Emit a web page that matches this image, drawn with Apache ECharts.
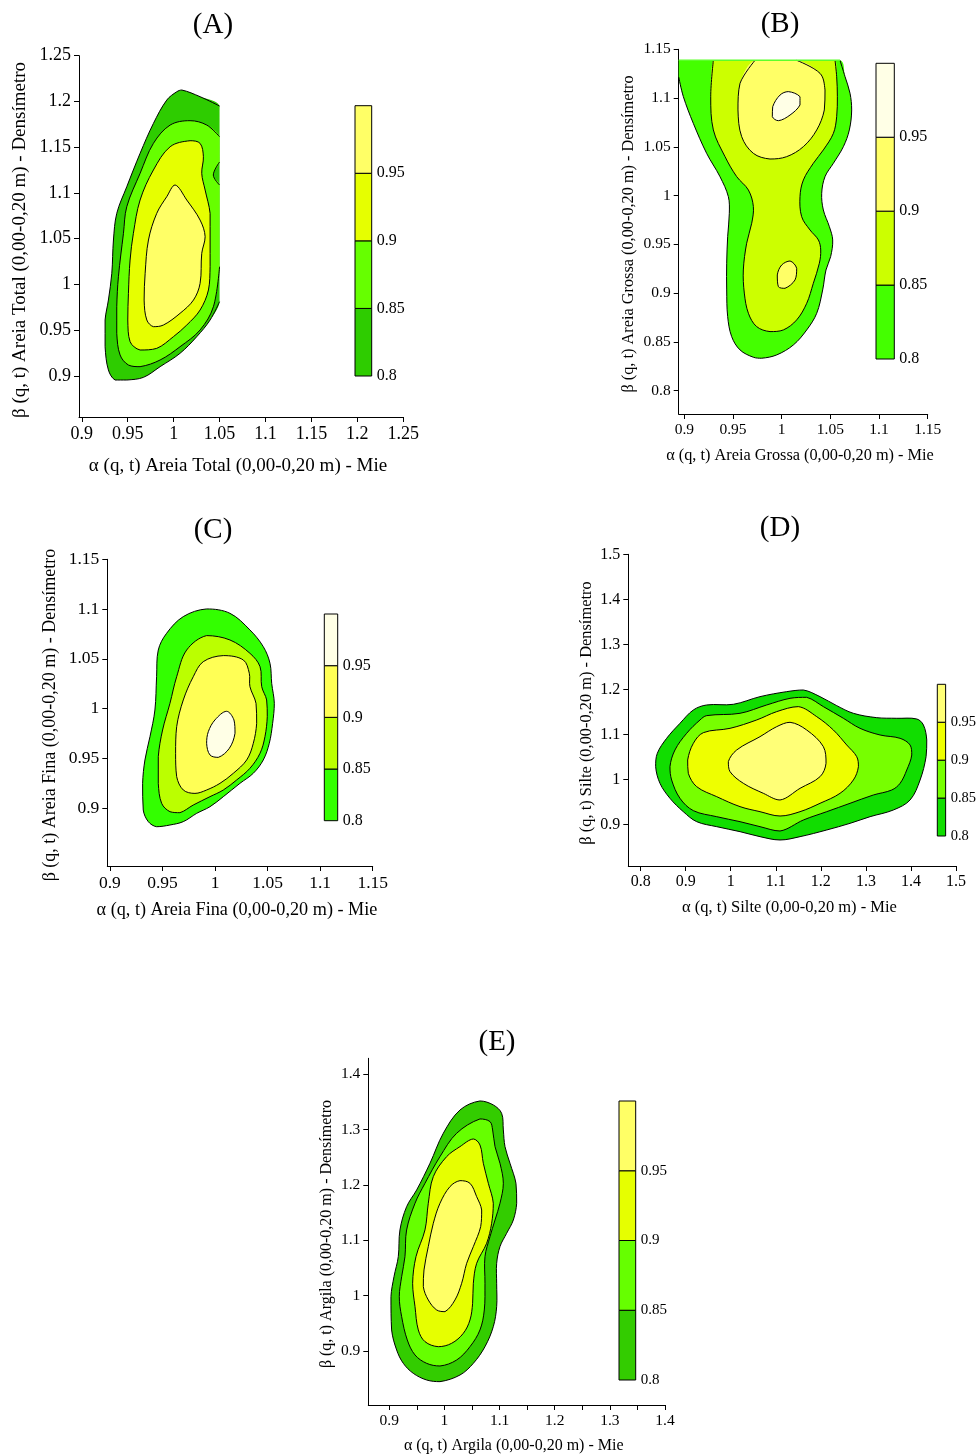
<!DOCTYPE html>
<html><head><meta charset="utf-8">
<script src="https://cdn.jsdelivr.net/npm/echarts@6/dist/echarts.min.js"></script>
<style>html,body{margin:0;padding:0;background:#fff}#c{width:979px;height:1454px}</style>
</head><body><div id="c"></div>
<script>
// ---------------- DATA ----------------
// Contour level boundaries (colour bar)
const CB_LEVELS = [0.8, 0.85, 0.9, 0.95, 1.0];
const CB_LABELS = [0.8, 0.85, 0.9, 0.95];

// Tick values
const A_X_TICKS = [0.9, 0.95, 1, 1.05, 1.1, 1.15, 1.2, 1.25];
const A_Y_TICKS = [0.9, 0.95, 1, 1.05, 1.1, 1.15, 1.2, 1.25];
const B_X_TICKS = [0.9, 0.95, 1, 1.05, 1.1, 1.15];
const B_Y_TICKS = [0.8, 0.85, 0.9, 0.95, 1, 1.05, 1.1, 1.15];
const C_X_TICKS = [0.9, 0.95, 1, 1.05, 1.1, 1.15];
const C_Y_TICKS = [0.9, 0.95, 1, 1.05, 1.1, 1.15];
const D_X_TICKS = [0.8, 0.9, 1, 1.1, 1.2, 1.3, 1.4, 1.5];
const D_Y_TICKS = [0.9, 1, 1.1, 1.2, 1.3, 1.4, 1.5];
const E_X_TICKS = [0.9, 0.95, 1, 1.05, 1.1, 1.15, 1.2, 1.25, 1.3, 1.35, 1.4];
const E_X_LABELS = [0.9, 1, 1.1, 1.2, 1.3, 1.4];
const E_Y_TICKS = [0.9, 1, 1.1, 1.2, 1.3, 1.4];

// Texts
const TITLES = ['(A)', '(B)', '(C)', '(D)', '(E)'];
const X_NAMES = [
  'α (q, t) Areia Total (0,00-0,20 m) - Mie',
  'α (q, t) Areia Grossa (0,00-0,20 m) - Mie',
  'α (q, t) Areia Fina (0,00-0,20 m) - Mie',
  'α (q, t) Silte (0,00-0,20 m) - Mie',
  'α (q, t) Argila (0,00-0,20 m) - Mie'
];
const Y_NAMES = [
  'β (q, t) Areia Total (0,00-0,20 m) - Densímetro',
  'β (q, t) Areia Grossa (0,00-0,20 m) - Densímetro',
  'β (q, t) Areia Fina (0,00-0,20 m) - Densímetro',
  'β (q, t) Silte (0,00-0,20 m) - Densímetro',
  'β (q, t) Argila (0,00-0,20 m) - Densímetro'
];

// (A) Areia Total – contour polygons [alpha, beta]
const A_C080 = [[1.0089,1.2125],[1.0288,1.2052],[1.05,1.195],[1.05,1.14],[1.05,1.09],[1.05,1.035],[1.05,0.9812],[1.0397,0.9612],[1.0252,0.943],[1.007,0.9248],[0.9853,0.9102],[0.9671,0.8985],[0.949,0.8956],[0.9363,0.8956],[0.929,0.9066],[0.9254,0.932],[0.9254,0.9612],[0.929,0.983],[0.9327,1.0122],[0.9345,1.0486],[0.9381,1.0777],[0.949,1.1068],[0.9635,1.1433],[0.978,1.176],[0.9925,1.2015],[1.0034,1.2106]];
const A_C085 = [[1.0179,1.179],[1.0361,1.1742],[1.05,1.1615],[1.05,1.1338],[1.0432,1.1196],[1.05,1.1087],[1.05,1.065],[1.05,1.0194],[1.0433,0.9757],[1.0288,0.9503],[1.007,0.932],[0.9853,0.9175],[0.9635,0.9102],[0.9508,0.912],[0.9417,0.923],[0.9381,0.9466],[0.9381,0.9757],[0.9399,1.0085],[0.9454,1.0559],[0.949,1.085],[0.9635,1.1214],[0.978,1.1542],[0.9962,1.1742]];
const A_C090 = [[1.0179,1.1571],[1.0288,1.1542],[1.0324,1.1396],[1.0306,1.1214],[1.0343,1.1032],[1.0397,1.0777],[1.0397,1.0486],[1.0397,1.0194],[1.0379,0.994],[1.0288,0.9721],[1.0143,0.9557],[0.9998,0.943],[0.9816,0.9302],[0.9635,0.9284],[0.9526,0.9375],[0.9501,0.9612],[0.9508,0.9903],[0.9526,1.0267],[0.9562,1.0559],[0.9635,1.0923],[0.978,1.1251],[0.9962,1.1505]];
const A_C095 = [[1.0016,1.1087],[1.0143,1.0923],[1.0288,1.0704],[1.0343,1.0522],[1.0306,1.034],[1.0288,1.0012],[1.0216,0.983],[1.007,0.9685],[0.9889,0.9557],[0.978,0.9539],[0.9708,0.9612],[0.9679,0.983],[0.969,1.0122],[0.9726,1.0486],[0.9816,1.0777],[0.9925,1.0959]];

// (B) Areia Grossa
const B_C080 = [[0.8942,1.1387],[0.98,1.1387],[1.0599,1.1387],[1.0651,1.1219],[1.0702,1.1049],[1.0719,1.0878],[1.0695,1.0673],[1.0634,1.0502],[1.0531,1.0331],[1.0445,1.0194],[1.0411,1.0023],[1.0428,0.9852],[1.049,0.9681],[1.0524,0.9545],[1.0503,0.9374],[1.0455,0.9237],[1.0421,0.9032],[1.036,0.8793],[1.0257,0.8622],[1.012,0.8468],[0.9949,0.8366],[0.9795,0.8332],[0.9709,0.8342],[0.9572,0.8417],[0.9486,0.8554],[0.9445,0.8759],[0.9435,0.9032],[0.9435,0.9306],[0.9445,0.9579],[0.9462,0.9818],[0.9452,0.9989],[0.9366,1.0194],[0.9229,1.0433],[0.9092,1.0741],[0.899,1.1014],[0.8942,1.1216]];
const B_C085 = [[0.9298,1.1387],[0.99,1.1387],[1.0548,1.1387],[1.0565,1.1219],[1.0572,1.1014],[1.0565,1.0809],[1.0531,1.0638],[1.0428,1.0468],[1.0325,1.0331],[1.0223,1.016],[1.0188,0.9989],[1.0205,0.9784],[1.0291,0.9647],[1.0377,0.9545],[1.0401,0.9442],[1.0387,0.9306],[1.0325,0.91],[1.0257,0.8895],[1.0154,0.8725],[1.0017,0.8622],[0.988,0.8605],[0.9743,0.8656],[0.9658,0.8793],[0.9616,0.9],[0.9606,0.9237],[0.964,0.9511],[0.9692,0.9716],[0.9709,0.9887],[0.9658,1.0057],[0.9538,1.0194],[0.9418,1.0399],[0.9298,1.0673],[0.9271,1.1014]];
const B_C090 = [[0.9726,1.1387],[1.0154,1.1387],[1.0394,1.1253],[1.0445,1.1083],[1.0438,1.0878],[1.036,1.0673],[1.0223,1.0502],[1.0051,1.0399],[0.988,1.0375],[0.9709,1.0433],[0.9589,1.0604],[0.9551,1.0878],[0.9572,1.1151]];
const B_C090b = [[1.0086,0.9329],[1.0154,0.9254],[1.0137,0.9135],[1.0034,0.9049],[0.9966,0.9066],[0.9955,0.9186],[1.0,0.9288]];
const B_C095 = [[1.0068,1.1066],[1.0188,1.1014],[1.0188,1.0929],[1.0086,1.0826],[0.9966,1.0768],[0.9904,1.0809],[0.9908,1.0912],[0.9983,1.1031]];
const B_TOPROW = [[0.8942,1.1387],[1.0599,1.1387]];

// (C) Areia Fina
const C_C080 = [[0.992,1.1001],[1.0142,1.0957],[1.0332,1.079],[1.0459,1.0622],[1.0523,1.0454],[1.0539,1.0253],[1.0564,1.0052],[1.0548,0.9851],[1.0516,0.965],[1.0459,0.9483],[1.0364,0.9349],[1.0237,0.9248],[1.0079,0.9114],[0.9952,0.9013],[0.9825,0.8946],[0.9698,0.8863],[0.9571,0.8829],[0.9444,0.8812],[0.9365,0.8863],[0.9317,0.898],[0.9311,0.9248],[0.9333,0.9483],[0.9381,0.9717],[0.9428,0.9985],[0.9444,1.032],[0.946,1.0588],[0.9539,1.0756],[0.9698,1.0924]];
const C_C085 = [[0.992,1.0733],[1.0142,1.0689],[1.0332,1.0555],[1.0428,1.0421],[1.0444,1.022],[1.0491,1.0086],[1.0497,0.9918],[1.0475,0.9717],[1.0428,0.955],[1.0332,0.9399],[1.0206,0.9282],[1.0079,0.9181],[0.9952,0.9114],[0.9793,0.903],[0.9666,0.8953],[0.9571,0.8963],[0.9492,0.9047],[0.946,0.9248],[0.946,0.9516],[0.9501,0.9784],[0.9571,1.0052],[0.9635,1.032],[0.973,1.0588]];
const C_C090 = [[1.0079,1.0532],[1.0269,1.0488],[1.0326,1.0354],[1.0332,1.022],[1.039,1.0052],[1.0396,0.9851],[1.0364,0.965],[1.0301,0.9483],[1.0174,0.9349],[1.0047,0.9248],[0.992,0.9181],[0.9809,0.9147],[0.9698,0.9181],[0.9635,0.9315],[0.9625,0.955],[0.9635,0.9818],[0.9698,1.0086],[0.9793,1.032],[0.9888,1.0471]];
const C_C095 = [[1.011,0.9972],[1.018,0.9885],[1.019,0.9751],[1.0136,0.96],[1.0031,0.9509],[0.9952,0.9533],[0.992,0.965],[0.9936,0.9767],[0.9999,0.9885]];

// (D) Silte
const D_C080 = [[0.9466,1.1652],[1.0058,1.1667],[1.065,1.1837],[1.1242,1.1948],[1.1612,1.1985],[1.1982,1.1837],[1.2352,1.1637],[1.2722,1.1467],[1.3241,1.137],[1.3685,1.1356],[1.4129,1.1341],[1.4277,1.1207],[1.4351,1.0874],[1.4336,1.0504],[1.4203,0.9985],[1.3981,0.9541],[1.3611,0.9319],[1.3093,0.917],[1.2648,0.9022],[1.213,0.8874],[1.1538,0.8726],[1.1094,0.8652],[1.065,0.8726],[1.0206,0.8837],[0.9688,0.8948],[0.9244,0.9059],[0.8947,0.9281],[0.8651,0.9578],[0.8429,0.9911],[0.8333,1.0281],[0.837,1.0578],[0.8577,1.0911],[0.8873,1.1244],[0.917,1.1541]];
const D_C085 = [[0.9466,1.1415],[1.0206,1.1467],[1.0798,1.1652],[1.1316,1.18],[1.1686,1.1822],[1.2056,1.1615],[1.25,1.1356],[1.287,1.1133],[1.3315,1.0985],[1.3759,1.0911],[1.3981,1.0763],[1.4018,1.0541],[1.3907,1.0207],[1.3759,0.9911],[1.3574,0.9763],[1.3167,0.9652],[1.2648,0.9467],[1.213,0.9281],[1.1612,0.9096],[1.1094,0.8852],[1.065,0.8948],[1.0206,0.9059],[0.9688,0.917],[0.917,0.9304],[0.8873,0.9578],[0.8688,0.9985],[0.8651,1.0281],[0.8762,1.0652],[0.9021,1.1022],[0.9318,1.1319]];
const D_C090 = [[0.9392,1.1037],[0.9984,1.1133],[1.0576,1.1319],[1.102,1.1504],[1.1501,1.1615],[1.1908,1.1393],[1.2278,1.1096],[1.2574,1.0763],[1.2796,1.0504],[1.2834,1.0281],[1.2722,0.9985],[1.2426,0.9689],[1.1982,0.9467],[1.1538,0.9281],[1.1094,0.9185],[1.065,0.9281],[1.0206,0.9393],[0.9688,0.9615],[0.9244,0.9837],[0.9058,1.0133],[0.9044,1.043],[0.917,1.08]];
const D_C095 = [[1.1316,1.1267],[1.1686,1.1096],[1.2056,1.0726],[1.2115,1.0356],[1.1982,1.0059],[1.1538,0.98],[1.1094,0.9541],[1.0724,0.9689],[1.028,0.9911],[0.9984,1.017],[0.9947,1.0393],[1.0132,1.0652],[1.065,1.0948],[1.102,1.117]];

// (E) Argila
const E_C080 = [[1.0644,1.3518],[1.0886,1.3446],[1.1037,1.3295],[1.1068,1.2994],[1.1098,1.2693],[1.1189,1.2392],[1.1297,1.203],[1.131,1.1669],[1.1249,1.1367],[1.1128,1.1127],[1.1007,1.0886],[1.0947,1.0584],[1.0947,1.0223],[1.0947,0.9801],[1.0886,0.944],[1.0735,0.9078],[1.0524,0.8777],[1.0282,0.8566],[0.9919,0.8446],[0.9677,0.8476],[0.9435,0.8596],[0.9254,0.8777],[0.9133,0.9018],[0.9042,0.938],[0.903,0.9982],[0.9085,1.0343],[0.9163,1.0705],[0.9193,1.1187],[0.9314,1.1608],[0.9496,1.191],[0.9738,1.2392],[0.9979,1.2934],[1.0282,1.3355]];
const E_C085 = [[1.0644,1.3193],[1.0826,1.3145],[1.0874,1.2994],[1.0917,1.2693],[1.1007,1.2392],[1.1068,1.203],[1.1007,1.1669],[1.0917,1.1367],[1.0826,1.1066],[1.0735,1.0705],[1.0735,1.0223],[1.0723,0.9741],[1.0644,0.938],[1.0463,0.9078],[1.0221,0.8837],[0.9919,0.8729],[0.9677,0.8777],[0.9466,0.8928],[0.9326,0.9199],[0.9224,0.962],[0.9181,0.9982],[0.9224,1.0343],[0.9284,1.0705],[0.9314,1.1187],[0.9466,1.1669],[0.9647,1.203],[0.9919,1.2512],[1.0221,1.2934]];
const E_C090 = [[1.0524,1.2831],[1.0644,1.2723],[1.0705,1.2392],[1.0796,1.203],[1.0886,1.1669],[1.0856,1.1307],[1.0765,1.0946],[1.0584,1.0584],[1.0524,1.0223],[1.0511,0.9861],[1.0463,0.956],[1.0342,0.9319],[1.0131,0.9139],[0.9889,0.9078],[0.9647,0.9169],[0.9526,0.938],[0.9466,0.9801],[0.9423,1.0223],[0.9484,1.0705],[0.9647,1.1187],[0.9707,1.1669],[0.9798,1.2151],[1.004,1.2512],[1.0282,1.2693]];
const E_C095 = [[1.0282,1.2078],[1.0463,1.203],[1.0584,1.1789],[1.0675,1.1548],[1.0657,1.1247],[1.0524,1.0886],[1.0403,1.0584],[1.0312,1.0223],[1.0191,0.9922],[1.001,0.9711],[0.9859,0.9741],[0.9707,0.9922],[0.9617,1.0163],[0.9629,1.0464],[0.9707,1.0886],[0.9798,1.1307],[0.9919,1.1669],[1.01,1.197]];

// ---------------- STYLE / LAYOUT ----------------
const FONT = '"Liberation Serif", "Times New Roman", serif';
const SMOOTH = 0.35;
const fmt = v => String(Math.round(v * 100) / 100);

const A_COLORS = ['#2ecc00', '#66ff00', '#e6ff00', '#ffff66'];
const B_COLORS = ['#44ff00', '#ccff00', '#ffff66', '#ffffe6'];
const C_COLORS = ['#33ff00', '#bbff00', '#ffff55', '#ffffe6'];
const D_COLORS = ['#11dd00', '#77ff00', '#eeff00', '#ffff77'];
const E_COLORS = ['#33cc00', '#66ff00', '#e6ff00', '#ffff66'];

const panels = [
  { grid:{left:79, top:55.7, width:324.3, height:361.3}, x:[0.897,1.25], y:[0.8552,1.25],
    xTicks:A_X_TICKS, xLabels:A_X_TICKS, yTicks:A_Y_TICKS, tickFont:18,
    polys:[[A_C080,0],[A_C085,1],[A_C090,2],[A_C095,3]], colors:A_COLORS,
    clip: p => p[0] >= 1.0499,
    cb:{left:355, top:105.7, width:16.7, height:270.3}, cbFont:16,
    title:[213,25], xName:[238,466,19], yName:[20,240,19] },
  { grid:{left:678.7, top:49.3, width:249, height:364.7}, x:[0.8942,1.15], y:[0.776,1.15],
    xTicks:B_X_TICKS, xLabels:B_X_TICKS, yTicks:B_Y_TICKS, tickFont:15.5,
    polys:[[B_C080,0],[B_C085,1],[B_C090,2],[B_C090b,2],[B_C095,3]], colors:B_COLORS,
    clip: p => p[1] >= 1.1386 || p[0] <= 0.8943,
    cb:{left:876, top:63.3, width:18.3, height:295.7}, cbFont:16,
    title:[780,24], xName:[800,456,16.3], yName:[629,234,16.3] },
  { grid:{left:107.3, top:559.3, width:265.4, height:306.7}, x:[0.8975,1.15], y:[0.8417,1.15],
    xTicks:C_X_TICKS, xLabels:C_X_TICKS, yTicks:C_Y_TICKS, tickFont:17.5,
    polys:[[C_C080,0],[C_C085,1],[C_C090,2],[C_C095,3]], colors:C_COLORS, clip:null,
    cb:{left:324.3, top:614, width:13.4, height:206.7}, cbFont:16,
    title:[213,530], xName:[237,910,18.2], yName:[50,715,18] },
  { grid:{left:628.3, top:554.3, width:327.7, height:311.7}, x:[0.7726,1.5], y:[0.8074,1.5],
    xTicks:D_X_TICKS, xLabels:D_X_TICKS, yTicks:D_Y_TICKS, tickFont:16,
    polys:[[D_C080,0],[D_C085,1],[D_C090,2],[D_C095,3]], colors:D_COLORS, clip:null,
    cb:{left:937.3, top:684.3, width:9.4, height:151.7}, cbFont:14.5,
    title:[780,528], xName:[789.5,908,16.5], yName:[587,713,16.4] },
  { grid:{left:368.3, top:1058.3, width:296.7, height:346.7}, x:[0.8619,1.4], y:[0.8024,1.4289],
    xTicks:E_X_TICKS, xLabels:E_X_LABELS, yTicks:E_Y_TICKS, tickFont:15.5,
    polys:[[E_C080,0],[E_C085,1],[E_C090,2],[E_C095,3]], colors:E_COLORS, clip:null,
    cb:{left:619, top:1101, width:16.7, height:279}, cbFont:15,
    title:[497,1042], xName:[513.7,1446,16], yName:[327,1234,16] }
];

function bbox(P) {
  let x0 = Infinity, y0 = Infinity, x1 = -Infinity, y1 = -Infinity;
  P.forEach(p => { x0 = Math.min(x0, p[0]); y0 = Math.min(y0, p[1]); x1 = Math.max(x1, p[0]); y1 = Math.max(y1, p[1]); });
  return [[x0, y0], [x1, y1]];
}

function lineEl(pts, box) {
  return { type:'polyline', shape:{ points:pts, smooth:SMOOTH, smoothConstraint:box },
           style:{ fill:'none', stroke:'#000', lineWidth:1 } };
}

function contourSeries(pts, fill, gi, isClip) {
  return {
    type:'custom', coordinateSystem:'cartesian2d', xAxisIndex:gi, yAxisIndex:gi,
    silent:true, animation:false, data:pts, encode:{x:0, y:1},
    renderItem(params, api) {
      if (params.dataIndex !== 0) return null;
      const P = pts.map(p => api.coord(p));
      const box = bbox(P);
      const n = pts.length;
      const skip = pts.map((p, i) => !!(isClip && isClip(p) && isClip(pts[(i + 1) % n])));
      const hasSkip = skip.some(Boolean);
      const children = [{ type:'polygon', shape:{ points:P, smooth:SMOOTH, smoothConstraint:box },
        style:{ fill:fill, stroke: hasSkip ? 'none' : '#000', lineWidth:1 } }];
      if (hasSkip) {
        const s = skip.indexOf(true);
        let run = [];
        for (let k = 1; k <= n; k++) {
          const i = (s + k) % n;
          if (skip[i]) { if (run.length > 1) children.push(lineEl(run, box)); run = []; }
          else { if (!run.length) run.push(P[i]); run.push(P[(i + 1) % n]); }
        }
        if (run.length > 1) children.push(lineEl(run, box));
      }
      return { type:'group', children };
    }
  };
}

const grids = [], xAxes = [], yAxes = [], series = [], graphics = [];
const axisLineStyle = { show:true, onZero:false, lineStyle:{ color:'#000', width:1 } };

panels.forEach((pn, i) => {
  grids.push(Object.assign({ containLabel:false }, pn.grid));
  xAxes.push({ gridIndex:i, type:'value', min:pn.x[0], max:pn.x[1], axisLine:axisLineStyle,
    axisTick:{ show:true, length:5, customValues:pn.xTicks, lineStyle:{ color:'#000' } },
    axisLabel:{ customValues:pn.xLabels, color:'#000', fontFamily:FONT, fontSize:pn.tickFont, margin:8, formatter:fmt },
    splitLine:{ show:false } });
  yAxes.push({ gridIndex:i, type:'value', min:pn.y[0], max:pn.y[1], axisLine:axisLineStyle,
    axisTick:{ show:true, length:5, customValues:pn.yTicks, lineStyle:{ color:'#000' } },
    axisLabel:{ customValues:pn.yTicks, color:'#000', fontFamily:FONT, fontSize:pn.tickFont, margin:8, formatter:fmt },
    splitLine:{ show:false } });
  pn.polys.forEach(([poly, lvl]) => series.push(contourSeries(poly, pn.colors[lvl], i, pn.clip)));
  if (i === 1) {
    series.push({ type:'line', xAxisIndex:1, yAxisIndex:1, data:B_TOPROW, symbol:'none', silent:true,
      animation:false, lineStyle:{ color:'#5cff2a', width:1.5 } });
  }
  graphics.push({ type:'text', x:pn.title[0], y:pn.title[1],
    style:{ text:TITLES[i], font:'29px ' + FONT, fill:'#000', textAlign:'center', textVerticalAlign:'middle' } });
  graphics.push({ type:'text', x:pn.xName[0], y:pn.xName[1],
    style:{ text:X_NAMES[i], font:pn.xName[2] + 'px ' + FONT, fill:'#000', textAlign:'center', textVerticalAlign:'middle' } });
  graphics.push({ type:'text', x:pn.yName[0], y:pn.yName[1], rotation:Math.PI / 2,
    style:{ text:Y_NAMES[i], font:pn.yName[2] + 'px ' + FONT, fill:'#000', textAlign:'center', textVerticalAlign:'middle' } });
});

// colour bars
panels.forEach((pn, i) => {
  const gi = panels.length + i;
  grids.push(Object.assign({ containLabel:false }, pn.cb));
  xAxes.push({ gridIndex:gi, type:'value', min:0, max:1, show:false });
  yAxes.push({ gridIndex:gi, type:'value', min:CB_LEVELS[0], max:CB_LEVELS[CB_LEVELS.length - 1], position:'right',
    axisLine:{ show:false }, axisTick:{ show:false }, splitLine:{ show:false },
    axisLabel:{ customValues:CB_LABELS, color:'#000', fontFamily:FONT, fontSize:pn.cbFont, margin:5, formatter:fmt } });
  const cols = pn.colors;
  series.push({ type:'custom', coordinateSystem:'cartesian2d', xAxisIndex:gi, yAxisIndex:gi, silent:true, animation:false,
    data: CB_LEVELS.slice(0, -1).map((v, k) => [v, CB_LEVELS[k + 1], k]),
    encode:{ x:2, y:[0, 1] },
    renderItem(params, api) {
      const lo = api.value(0), hi = api.value(1), k = api.value(2);
      const p1 = api.coord([0, hi]), p2 = api.coord([1, lo]);
      return { type:'rect', shape:{ x:p1[0], y:p1[1], width:p2[0] - p1[0], height:p2[1] - p1[1] },
        style:{ fill:cols[k], stroke:'#000', lineWidth:1 } };
    } });
});

const chart = echarts.init(document.getElementById('c'), null, { renderer:'canvas', width:979, height:1454 });
chart.setOption({
  backgroundColor:'#fff', animation:false,
  grid:grids, xAxis:xAxes, yAxis:yAxes, series:series, graphic:graphics
});
</script>
</body></html>
